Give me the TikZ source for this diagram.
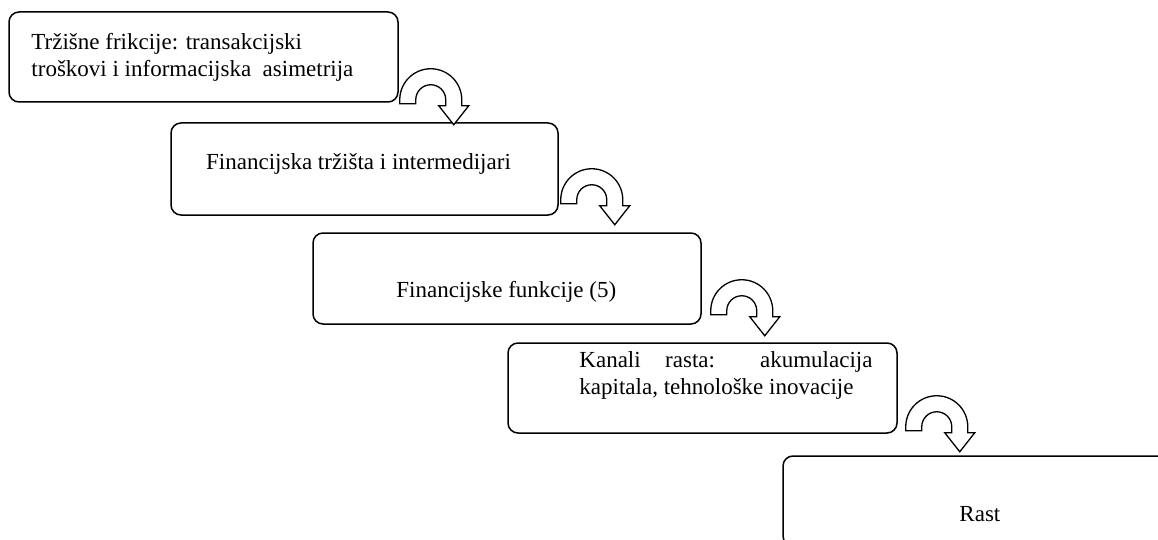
\documentclass[tikz,border=0pt]{standalone}
\usepackage{fontspec}
\setmainfont{Liberation Serif}

\tikzset{
  box/.style={draw, rounded corners=10, line width=1.5pt, inner sep=0pt},
  txt/.style={inner sep=0pt, font=\fontsize{23}{27}\selectfont},
  arrowline/.style={draw, line width=1.3pt, fill=white, line join=miter},
  uturn/.pic={
    \draw[arrowline] (-31,4) -- (-31,0) arc[start angle=180, end angle=360, radius=31]
      -- (31,6) -- (38,6) -- (23,25) -- (8,6) -- (15,6) -- (15,0)
      arc[start angle=0, end angle=-180, radius=15] -- (-15,4) -- cycle;
  }
}

\begin{document}
\begin{tikzpicture}[x=1pt,y=-1pt]
\useasboundingbox (0,0) rectangle (1158,540);
\clip (0,0) rectangle (1158,540);

% Boxes
\node[box, minimum width=389pt, minimum height=90pt] (b1) at (203.5,57) {};
\node[box, minimum width=387pt, minimum height=92pt] (b2) at (364.5,169) {};
\node[box, minimum width=388pt, minimum height=91pt] (b3) at (507,278.5) {};
\node[box, minimum width=389pt, minimum height=90pt] (b4) at (702.5,388) {};
\node[box, minimum width=389pt, minimum height=90pt] (b5) at (977.5,501) {};

% Text Nodes
\node[txt, anchor=base west, align=left] (t1) at ([shift={(23,65)}]b1.north west)
  {Tržišne frikcije: transakcijski\\troškovi i informacijska\ \ asimetrija};
\node[txt, anchor=base] (t2) at ([shift={(-6,1)}]b2.center) {Financijska tržišta i intermedijari};
\node[txt, anchor=base west] (t3) at ([shift={(84,65)}]b3.north west) {Financijske funkcije (5)};
\node[txt, anchor=base west, text width=293pt, align=justify] (t4) at ([shift={(72,25)}]b4.north west)
  {Kanali rasta: akumulacija\linebreak kapitala, tehnološke inovacije};
\node[txt, anchor=base west] (t5) at ([shift={(177,66)}]b5.north west) {Rast};

% U-turn arrows
\pic at ([shift={(32,-3)}]b1.south east) {uturn};
\pic at ([shift={(33,-16)}]b2.south east) {uturn};
\pic at ([shift={(40,-14)}]b3.south east) {uturn};
\pic at ([shift={(39,-7)}]b4.south east) {uturn};

\end{tikzpicture}
\end{document}
